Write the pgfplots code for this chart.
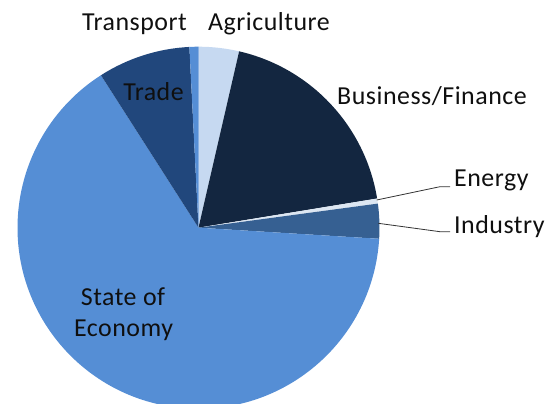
\documentclass[border=0pt]{standalone}
\usepackage{pgfplots}
\usepackage{pgfplotstable}
\pgfplotsset{compat=1.18}
\usepackage{fontspec}
\setmainfont{Carlito}
\definecolor{cAgri}{RGB}{198,217,241}
\definecolor{cBusi}{RGB}{19,38,64}
\definecolor{cEner}{RGB}{220,230,242}
\definecolor{cIndu}{RGB}{54,96,146}
\definecolor{cStat}{RGB}{85,142,213}
\definecolor{cTrad}{RGB}{33,71,124}
\definecolor{cTran}{RGB}{85,142,213}
\definecolor{txt}{RGB}{15,15,15}
\pgfplotstableread{
sector value colour
Agriculture 3.6 cAgri
Business 18.8 cBusi
Energy 0.45 cEner
Industry 3.1 cIndu
State 64.9 cStat
Trade 8.25 cTrad
Transport 0.8 cTran
}\piedata
\begin{document}
\begin{tikzpicture}
\useasboundingbox (0,0) rectangle (555bp,404bp);
\clip (0,0) rectangle (555bp,404bp);
\begin{axis}[
  x=1bp, y=1bp,
  xmin=0, xmax=555, ymin=0, ymax=404,
  hide axis, clip=false,
  anchor=origin, at={(0,0)},
]
\pgfplotsextra{
  \def\total{0}
  \pgfplotsforeachungrouped \i in {0,...,6}{
    \pgfplotstablegetelem{\i}{value}\of\piedata
    \pgfmathsetmacro\total{\total+\pgfplotsretval}
  }
  \def\cum{0}
  \pgfplotsforeachungrouped \i in {0,...,6}{
    \pgfplotstablegetelem{\i}{value}\of\piedata \edef\v{\pgfplotsretval}
    \pgfplotstablegetelem{\i}{colour}\of\piedata \edef\c{\pgfplotsretval}
    \pgfmathsetmacro\aa{90-\cum/\total*360}
    \pgfmathsetmacro\bb{90-(\cum+\v)/\total*360}
    \fill[\c] (axis cs:198.5,176.3) -- ++(\aa:181bp) arc[start angle=\aa, end angle=\bb, radius=181bp] -- cycle;
    \pgfmathsetmacro\cum{\cum+\v}
  }
}
\draw[black!80, line width=0.8bp] (axis cs:376.7,204) -- (axis cs:440,217.3) -- (axis cs:450,217.3);
\draw[black!80, line width=0.8bp] (axis cs:378.3,180.7) -- (axis cs:440,172.3) -- (axis cs:450,172.3);
\begin{scope}[every node/.style={font=\fontsize{26}{31}\selectfont\addfontfeature{LetterSpace=2}, text=txt, inner sep=0pt}]
\node at (axis cs:134.5,380) {Transport};
\node at (axis cs:269,380) {Agriculture};
\node at (axis cs:153.5,312.3) {Trade};
\node at (axis cs:432,308.3) {Business/Finance};
\node[anchor=west] at (axis cs:454,224) {Energy};
\node[anchor=west] at (axis cs:454,177.3) {Industry};
\node at (axis cs:123,107) {State of};
\node at (axis cs:123.6,74) {Economy};
\end{scope}
\end{axis}
\end{tikzpicture}
\end{document}
